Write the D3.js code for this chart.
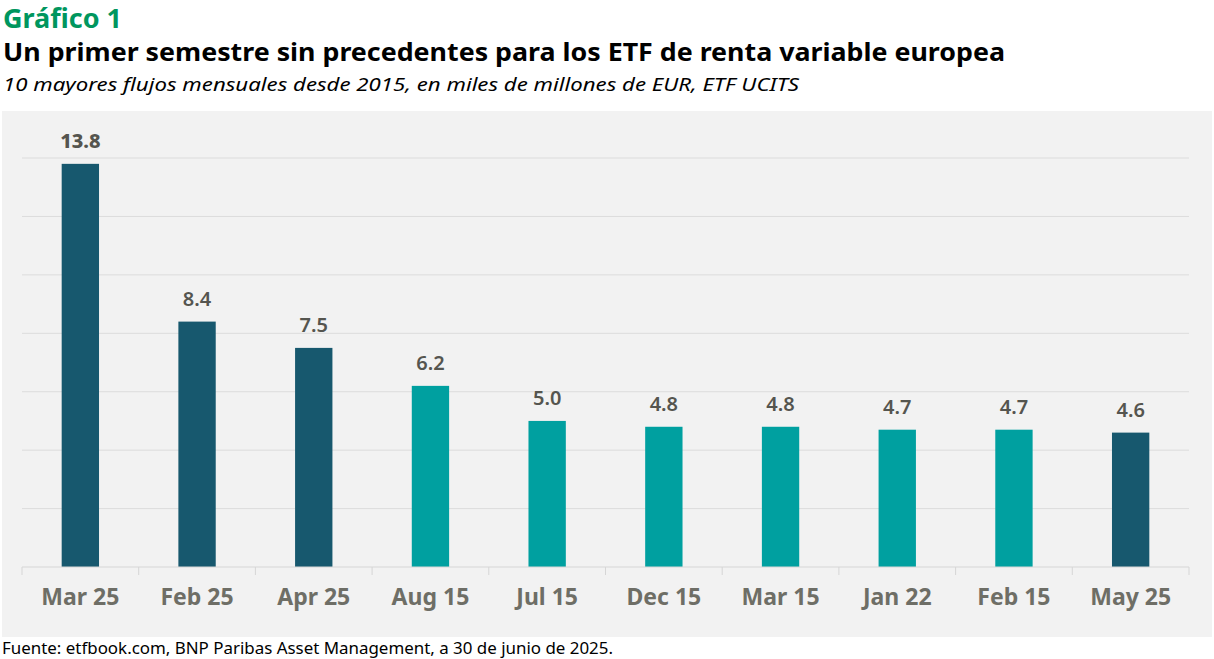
<!DOCTYPE html>
<html>
<head>
<meta charset="utf-8">
<script src="https://cdn.jsdelivr.net/npm/d3@7"></script>
<style>
  body { margin: 0; background: #fff; }
  svg { display: block; }
</style>
</head>
<body>
<div id="chart"></div>
<script>
// datos: 10 mayores flujos mensuales desde 2015 (miles de millones de EUR)
const categories = ["Mar 25", "Feb 25", "Apr 25", "Aug 15", "Jul 15", "Dec 15", "Mar 15", "Jan 22", "Feb 15", "May 25"];
const flows = [13.8, 8.4, 7.5, 6.2, 5.0, 4.8, 4.8, 4.7, 4.7, 4.6];
const yTicks = [0, 2, 4, 6, 8, 10, 12, 14];

const width = 1214, height = 659;

const svg = d3.select("#chart")
    .append("svg")
    .attr("width", width)
    .attr("height", height);

// títulos
svg.append("text")
    .attr("x", 3).attr("y", 28)
    .style("font-family", "'Noto Sans', sans-serif")
    .style("font-weight", 700)
    .style("font-size", "26px")
    .style("fill", "#00965e")
    .attr("textLength", 119)
    .attr("lengthAdjust", "spacingAndGlyphs")
    .text("Gráfico 1");

svg.append("text")
    .attr("x", 3).attr("y", 61)
    .style("font-family", "'Noto Sans', sans-serif")
    .style("font-weight", 700)
    .style("font-size", "25px")
    .style("fill", "#000")
    .attr("textLength", 1002)
    .attr("lengthAdjust", "spacingAndGlyphs")
    .text("Un primer semestre sin precedentes para los ETF de renta variable europea");

svg.append("text")
    .attr("x", 3).attr("y", 91)
    .style("font-family", "'Noto Sans', sans-serif")
    .style("font-style", "italic")
    .style("font-size", "18px")
    .style("fill", "#000")
    .attr("textLength", 796)
    .attr("lengthAdjust", "spacingAndGlyphs")
    .text("10 mayores flujos mensuales desde 2015, en miles de millones de EUR, ETF UCITS");

// panel gris
svg.append("rect")
    .attr("x", 2).attr("y", 111)
    .attr("width", 1210).attr("height", 526)
    .attr("fill", "#f2f2f2");

// escalas
const x = d3.scaleBand()
    .domain(categories)
    .range([22, 1189])
    .paddingInner(0.68)
    .paddingOuter(0.34);

const y = d3.scaleLinear()
    .domain([0, 14])
    .range([567, 158]);

// líneas de cuadrícula
svg.append("g")
    .selectAll("line")
    .data(yTicks.slice(1))
    .join("line")
    .attr("x1", 22).attr("x2", 1189)
    .attr("y1", d => y(d)).attr("y2", d => y(d))
    .attr("stroke", "#dcdcdc")
    .attr("stroke-width", 1);

// barras
svg.append("g")
    .selectAll("rect")
    .data(flows)
    .join("rect")
    .attr("x", (d, i) => x(categories[i]))
    .attr("y", d => y(d))
    .attr("width", x.bandwidth())
    .attr("height", d => y(0) - y(d))
    .attr("fill", (d, i) => categories[i].endsWith("25") ? "#17586e" : "#00a0a0");

// eje x con marcas en los límites de cada banda
const step = x.step();
const xStart = x.range()[0];
const axis = svg.append("g");
axis.append("line")
    .attr("x1", 22).attr("x2", 1189)
    .attr("y1", y(0)).attr("y2", y(0))
    .attr("stroke", "#d6d6d6");
axis.selectAll(".tk")
    .data(d3.range(categories.length + 1))
    .join("line")
    .attr("class", "tk")
    .attr("x1", d => xStart + d * step).attr("x2", d => xStart + d * step)
    .attr("y1", y(0)).attr("y2", y(0) + 8)
    .attr("stroke", "#d6d6d6");
axis.selectAll(".lbl")
    .data(categories)
    .join("text")
    .attr("class", "lbl")
    .attr("x", d => x(d) + x.bandwidth() / 2)
    .attr("y", 605)
    .attr("text-anchor", "middle")
    .style("font-family", "'Noto Sans', sans-serif")
    .style("font-weight", 700)
    .style("font-size", "23px")
    .style("fill", "#6e6e66")
    .text(d => d);

// etiquetas de valor
svg.append("g")
    .selectAll("text")
    .data(flows)
    .join("text")
    .attr("x", (d, i) => x(categories[i]) + x.bandwidth() / 2)
    .attr("y", d => y(d) - 16)
    .attr("text-anchor", "middle")
    .style("font-family", "'Noto Sans', sans-serif")
    .style("font-weight", (d, i) => i === 0 ? 800 : 600)
    .style("font-size", "20px")
    .style("fill", "#55554f")
    .text(d => d.toFixed(1));

// fuente
svg.append("text")
    .attr("x", 2).attr("y", 654)
    .style("font-family", "'Noto Sans', sans-serif")
    .style("font-size", "17px")
    .style("fill", "#000")
    .attr("textLength", 611)
    .attr("lengthAdjust", "spacingAndGlyphs")
    .text("Fuente: etfbook.com, BNP Paribas Asset Management, a 30 de junio de 2025.");
</script>
</body>
</html>
